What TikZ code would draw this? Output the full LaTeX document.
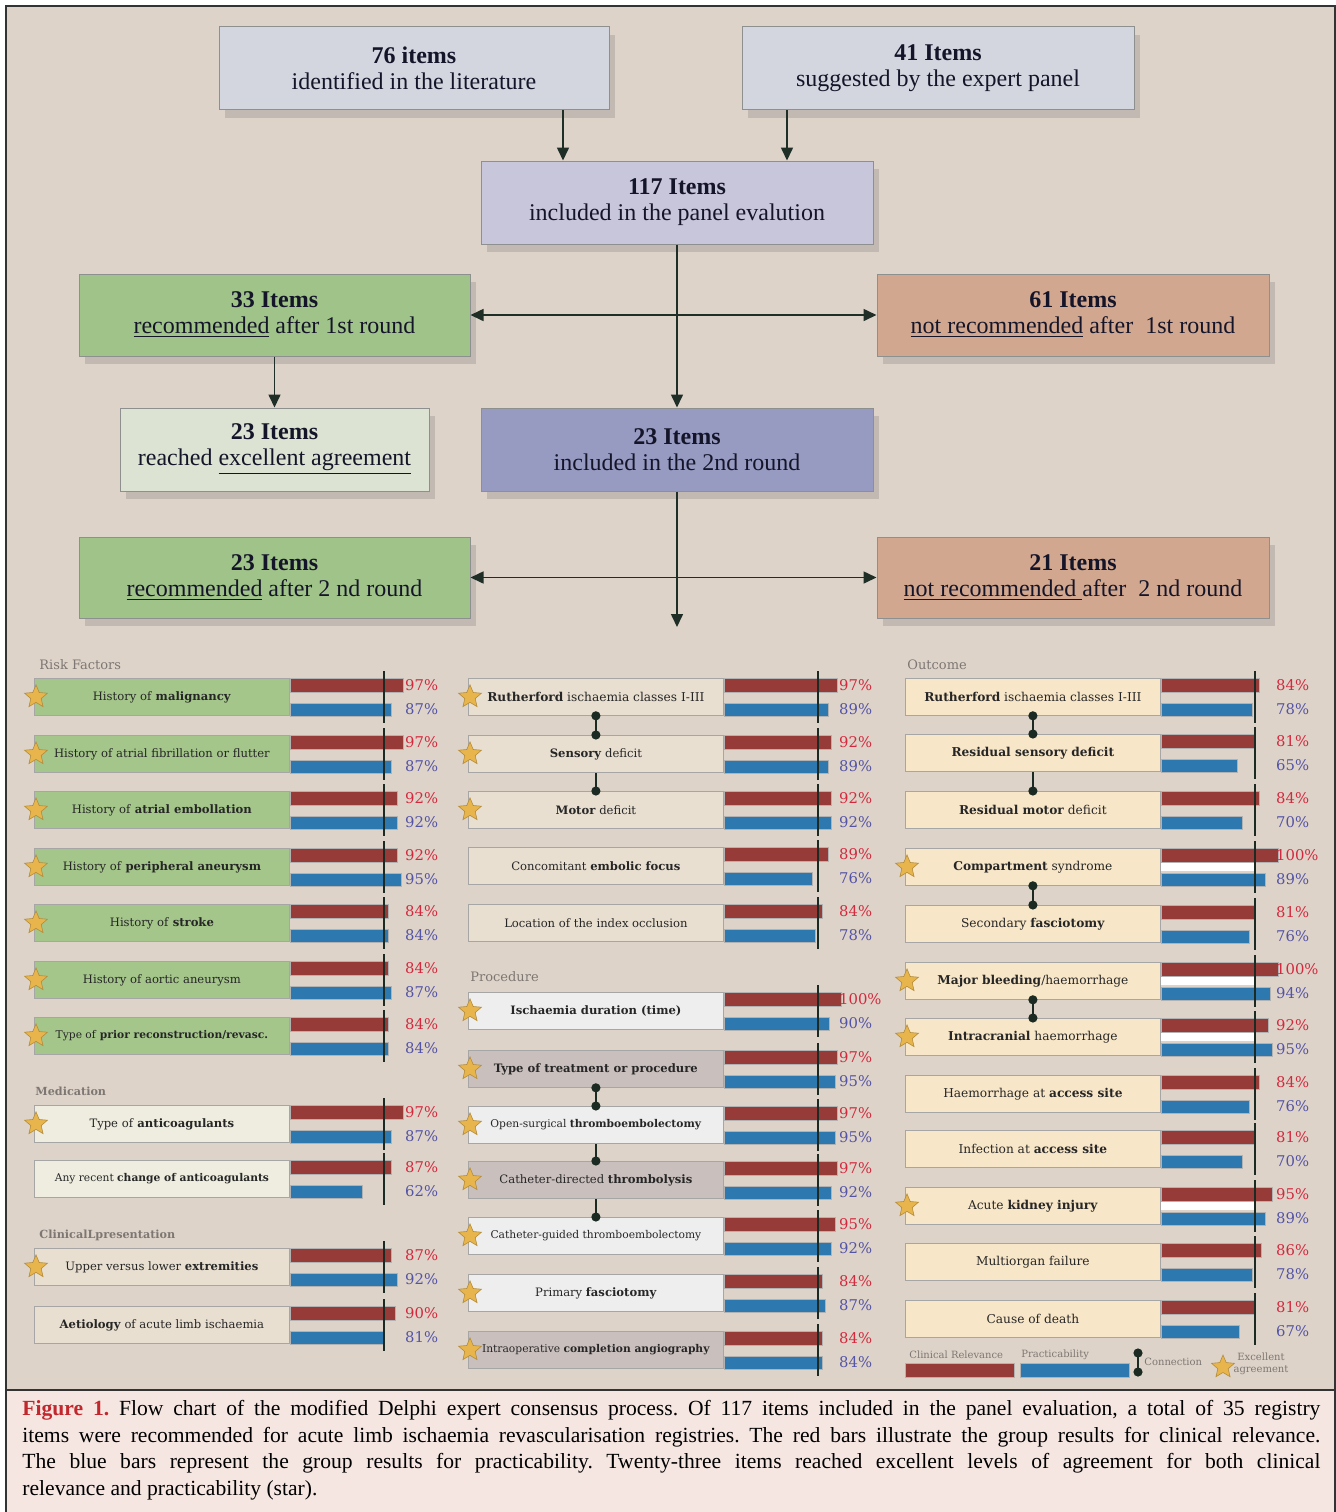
\documentclass[tikz,border=0pt]{standalone}
\usepackage{fontspec}
\setmainfont{Liberation Serif}
\newfontfamily\chartfont{DejaVu Serif}
\usepackage{tikz}
\usetikzlibrary{arrows.meta,shapes.geometric,shadows,calc}

\definecolor{panelbg}{HTML}{DED3C8}
\definecolor{capbg}{HTML}{F6E6E1}
\definecolor{boxline}{HTML}{8E908F}
\definecolor{arrowcol}{HTML}{1F2E26}
\definecolor{flowtext}{HTML}{15152A}
\definecolor{litfill}{HTML}{D3D6DE}
\definecolor{panelfill}{HTML}{C8C6DA}
\definecolor{recfill}{HTML}{A0C389}
\definecolor{nrecfill}{HTML}{D2A78F}
\definecolor{excfill}{HTML}{DCE3D2}
\definecolor{roundfill}{HTML}{979BC2}
\definecolor{rowgreen}{HTML}{A4C68B}
\definecolor{rowcream}{HTML}{EEEDDF}
\definecolor{rowbeige}{HTML}{E8DFD0}
\definecolor{rowwhite}{HTML}{EEEEEE}
\definecolor{rowgray}{HTML}{C9C0BE}
\definecolor{rowpeach}{HTML}{F8E6C8}
\definecolor{relcol}{HTML}{963B37}
\definecolor{praccol}{HTML}{2E78B0}
\definecolor{relnum}{HTML}{D3293F}
\definecolor{pracnum}{HTML}{5454A6}
\definecolor{headgray}{HTML}{7D7773}
\definecolor{starfill}{HTML}{E8B54C}
\definecolor{starline}{HTML}{B38C3C}
\definecolor{linkcol}{HTML}{1B2A22}
\definecolor{figred}{HTML}{C1272D}

\tikzset{
  flowbox/.style={
    draw=boxline,
    line width=0.5pt,
    align=center,
    text=flowtext,
    inner sep=2pt,
    font=\fontsize{12}{13}\selectfont,
    drop shadow={shadow xshift=3pt, shadow yshift=-4pt, opacity=0.3}
  },
  flow/.style={
    line width=0.8pt,
    draw=arrowcol,
    -{Triangle[length=6.5pt,width=6pt]}
  },
  twoway/.style={
    line width=0.8pt,
    draw=arrowcol,
    {Triangle[length=6.5pt,width=6pt]}-{Triangle[length=6.5pt,width=6pt]}
  },
  rowbox/.style={
    draw=black!35,
    line width=0.4pt,
    anchor=north west,
    minimum width=127.5pt,
    minimum height=18.5pt,
    inner sep=0pt,
    text=black!85,
    font=\chartfont\fontsize{5.8}{7}\selectfont
  },
  longlabel/.style={font=\chartfont\fontsize{5.35}{7}\selectfont},
  widelabel/.style={font=\chartfont\fontsize{6.1}{7}\selectfont},
  relbar/.style={fill=relcol, draw=black!30, line width=0.3pt},
  pracbar/.style={fill=praccol, draw=black!30, line width=0.3pt},
  cutline/.style={draw=linkcol, line width=0.7pt},
  relpct/.style={anchor=west, inner sep=0pt, text=relnum, font=\chartfont\fontsize{7.4}{8}\selectfont},
  pracpct/.style={anchor=west, inner sep=0pt, text=pracnum, font=\chartfont\fontsize{7.4}{8}\selectfont},
  starmark/.style={
    star, star points=5, star point ratio=2.2,
    minimum size=12pt, inner sep=0pt,
    fill=starfill, draw=starline, line width=0.3pt
  },
  link/.style={draw=linkcol, line width=1pt},
  grouphead/.style={anchor=west, inner sep=0pt, text=headgray, font=\chartfont\fontsize{6.5}{8}\selectfont},
  subhead/.style={anchor=west, inner sep=0pt, text=headgray, font=\chartfont\bfseries\fontsize{5.6}{7}\selectfont},
  legtext/.style={inner sep=0pt, text=headgray, font=\chartfont\fontsize{5}{6}\selectfont}
}

% one item: name, x, top y, fill, label, relevance, practicability
\newcommand{\itemrow}[7]{%
  \node[rowbox,#4] (#1) at (#2,#3) {#5};
  \filldraw[relbar] (#1.north east) rectangle ++(#6*1.17,14);
  \filldraw[pracbar] (#1.south east) rectangle ++(#7*1.17,-13);
  \draw[cutline] ([shift={(94.2,-7)}]#1.north east) -- ++(0,52);
  \node[relpct] (#1r) at ([shift={(115,7)}]#1.north east) {#6\%};
  \node[pracpct] (#1p) at ([shift={(115,31)}]#1.north east) {#7\%};
}

\begin{document}
\begin{tikzpicture}[x=0.5pt,y=-0.5pt]
  \useasboundingbox[fill=white] (0,0) rectangle (1336,1512);

  % panels
  \filldraw[fill=panelbg, draw=black!80, line width=0.6pt] (6,6) rectangle (1335,1390);
  \filldraw[fill=capbg, draw=black!80, line width=0.6pt] (6,1390) rectangle (1335,1515);

  % flow chart
  \node[flowbox, fill=litfill, minimum width=195pt, minimum height=41.5pt] (lit) at (414,68)
    {\textbf{76 items}\\identified in the literature};
  \node[flowbox, fill=litfill, minimum width=196pt, minimum height=41.5pt] (expert) at (938,68)
    {\textbf{41 Items}\\suggested by the expert panel};
  \node[flowbox, fill=panelfill, minimum width=196pt, minimum height=41.5pt] (panel) at (677,202.5)
    {\textbf{117 Items}\\included in the panel evalution};
  \node[flowbox, fill=recfill, minimum width=195.5pt, minimum height=41pt] (rec1) at (274.5,315)
    {\textbf{33 Items}\\\underline{recommended} after 1st round};
  \node[flowbox, fill=nrecfill, minimum width=196pt, minimum height=41pt] (nrec1) at (1073,315)
    {\textbf{61 Items}\\\underline{not recommended} after\ \ 1st round};
  \node[flowbox, fill=excfill, minimum width=154.5pt, minimum height=41.5pt] (excel) at (274.5,449.5)
    {\textbf{23 Items}\\reached \underline{excellent agreement}};
  \node[flowbox, fill=roundfill, minimum width=196pt, minimum height=41.5pt] (round2) at (677,449.5)
    {\textbf{23 Items}\\included in the 2nd round};
  \node[flowbox, fill=recfill, minimum width=195.5pt, minimum height=40.5pt] (rec2) at (274.5,577.5)
    {\textbf{23 Items}\\\underline{recommended} after 2 nd round};
  \node[flowbox, fill=nrecfill, minimum width=196pt, minimum height=40.5pt] (nrec2) at (1073,577.5)
    {\textbf{21 Items}\\\underline{not recommended }after\ \ 2 nd round};
  \coordinate (chart) at (677,627);

  \draw[flow] ([xshift=74.5pt]lit.south) -- ([xshift=74.5pt]lit.south |- panel.north);
  \draw[flow] ([xshift=-75.5pt]expert.south) -- ([xshift=-75.5pt]expert.south |- panel.north);
  \draw[flow] (panel.south) -- (round2.north);
  \draw[twoway] (rec1.east) -- (nrec1.west);
  \draw[flow] (rec1.south) -- (excel.north);
  \draw[flow] (round2.south) -- (chart);
  \draw[twoway] (rec2.east) -- (nrec2.west);

  % group headings
  \node[grouphead] (hrisk) at (39,665) {Risk Factors};
  \node[subhead] (hmed) at (35,1091) {Medication};
  \node[subhead] (hclin) at (39,1235) {ClinicalLpresentation};
  \node[grouphead] (hproc) at (470,977) {Procedure};
  \node[grouphead] (hout) at (907,665) {Outcome};

  % left column
  \itemrow{rf1}{34}{678}{fill=rowgreen}{History of \textbf{malignancy}}{97}{87}
  \itemrow{rf2}{34}{735}{fill=rowgreen}{History of atrial fibrillation or flutter}{97}{87}
  \itemrow{rf3}{34}{791}{fill=rowgreen}{History of \textbf{atrial embollation}}{92}{92}
  \itemrow{rf4}{34}{848}{fill=rowgreen}{History of \textbf{peripheral aneurysm}}{92}{95}
  \itemrow{rf5}{34}{904}{fill=rowgreen}{History of \textbf{stroke}}{84}{84}
  \itemrow{rf6}{34}{961}{fill=rowgreen}{History of aortic aneurysm}{84}{87}
  \itemrow{rf7}{34}{1017}{fill=rowgreen,longlabel}{Type of \textbf{prior reconstruction/revasc.}}{84}{84}
  \itemrow{md1}{34}{1105}{fill=rowcream}{Type of \textbf{anticoagulants}}{97}{87}
  \itemrow{md2}{34}{1160}{fill=rowcream,longlabel}{Any recent \textbf{change of anticoagulants}}{87}{62}
  \itemrow{cp1}{34}{1248}{fill=rowbeige}{Upper versus lower \textbf{extremities}}{87}{92}
  \itemrow{cp2}{34}{1306}{fill=rowbeige}{\textbf{Aetiology} of acute limb ischaemia}{90}{81}

  % middle column
  \itemrow{dx1}{468}{678}{fill=rowbeige,widelabel}{\textbf{Rutherford} ischaemia classes I-III}{97}{89}
  \itemrow{dx2}{468}{735}{fill=rowbeige}{\textbf{Sensory} deficit}{92}{89}
  \itemrow{dx3}{468}{791}{fill=rowbeige}{\textbf{Motor} deficit}{92}{92}
  \itemrow{dx4}{468}{847}{fill=rowbeige}{Concomitant \textbf{embolic focus}}{89}{76}
  \itemrow{dx5}{468}{904}{fill=rowbeige}{Location of the index occlusion}{84}{78}
  \itemrow{pr1}{468}{992}{fill=rowwhite}{\textbf{Ischaemia duration (time)}}{100}{90}
  \itemrow{pr2}{468}{1050}{fill=rowgray}{\textbf{Type of treatment or procedure}}{97}{95}
  \itemrow{pr3}{468}{1106}{fill=rowwhite,longlabel}{Open-surgical \textbf{thromboembolectomy}}{97}{95}
  \itemrow{pr4}{468}{1161}{fill=rowgray}{Catheter-directed \textbf{thrombolysis}}{97}{92}
  \itemrow{pr5}{468}{1217}{fill=rowwhite,longlabel}{Catheter-guided thromboembolectomy}{95}{92}
  \itemrow{pr6}{468}{1274}{fill=rowwhite}{Primary \textbf{fasciotomy}}{84}{87}
  \itemrow{pr7}{468}{1331}{fill=rowgray,longlabel}{Intraoperative \textbf{completion angiography}}{84}{84}

  % right column
  \itemrow{oc1}{905}{678}{fill=rowpeach,widelabel}{\textbf{Rutherford} ischaemia classes I-III}{84}{78}
  \itemrow{oc2}{905}{734}{fill=rowpeach,widelabel}{\textbf{Residual sensory deficit}}{81}{65}
  \itemrow{oc3}{905}{791}{fill=rowpeach,widelabel}{\textbf{Residual motor} deficit}{84}{70}
  \itemrow{oc4}{905}{848}{fill=rowpeach,widelabel}{\textbf{Compartment} syndrome}{100}{89}
  \itemrow{oc5}{905}{905}{fill=rowpeach,widelabel}{Secondary \textbf{fasciotomy}}{81}{76}
  \itemrow{oc6}{905}{962}{fill=rowpeach,widelabel}{\textbf{Major bleeding}/haemorrhage}{100}{94}
  \itemrow{oc7}{905}{1018}{fill=rowpeach,widelabel}{\textbf{Intracranial} haemorrhage}{92}{95}
  \itemrow{oc8}{905}{1075}{fill=rowpeach,widelabel}{Haemorrhage at \textbf{access site}}{84}{76}
  \itemrow{oc9}{905}{1130}{fill=rowpeach,widelabel}{Infection at \textbf{access site}}{81}{70}
  \itemrow{oc10}{905}{1187}{fill=rowpeach,widelabel}{Acute \textbf{kidney injury}}{95}{89}
  \itemrow{oc11}{905}{1243}{fill=rowpeach,widelabel}{Multiorgan failure}{86}{78}
  \itemrow{oc12}{905}{1300}{fill=rowpeach,widelabel}{Cause of death}{81}{67}

  % white gap of the starred outcome rows
  \foreach \r in {oc4,oc6,oc7,oc10}
    \fill[white] ([shift={(0.5,14.5)}]\r.north east) rectangle ([shift={(93,23)}]\r.north east);

  % excellent agreement
  \foreach \s in {rf1,rf2,rf3,rf4,rf5,rf6,rf7,md1,cp1,dx1,dx2,dx3,pr1,pr2,pr3,pr4,pr5,pr6,pr7,oc4,oc6,oc7,oc10}
    \node[starmark] (star-\s) at ([xshift=1pt]\s.west) {};

  % connections
  \draw[link] (dx1.south) -- (dx2.north);
  \fill[linkcol] (dx1.south) circle (2.3pt) (dx2.north) circle (2.3pt);
  \draw[link] (dx2.south) -- (dx3.north);
  \fill[linkcol] (dx3.north) circle (2.3pt);
  \draw[link] (pr2.south) -- (pr3.north);
  \fill[linkcol] (pr2.south) circle (2.3pt) (pr3.north) circle (2.3pt);
  \draw[link] (pr3.south) -- (pr4.north);
  \fill[linkcol] (pr4.north) circle (2.3pt);
  \draw[link] (pr4.south) -- (pr5.north);
  \fill[linkcol] (pr5.north) circle (2.3pt);
  \draw[link] (oc1.south) -- (oc2.north);
  \fill[linkcol] (oc1.south) circle (2.3pt) (oc2.north) circle (2.3pt);
  \draw[link] (oc2.south) -- (oc3.north);
  \fill[linkcol] (oc3.north) circle (2.3pt);
  \draw[link] (oc4.south) -- (oc5.north);
  \fill[linkcol] (oc4.south) circle (2.3pt) (oc5.north) circle (2.3pt);
  \draw[link] (oc6.south) -- (oc7.north);
  \fill[linkcol] (oc6.south) circle (2.3pt) (oc7.north) circle (2.3pt);

  % legend
  \node[legtext, anchor=west] (legrel) at (909,1355) {Clinical Relevance};
  \filldraw[relbar] (905,1363) rectangle (1014,1377);
  \node[legtext, anchor=west] (legprac) at (1021,1355) {Practicability};
  \filldraw[pracbar] (1020,1363) rectangle (1129,1377);
  \coordinate (legA) at (1138,1353);
  \coordinate (legB) at (1138,1372);
  \draw[link] (legA) -- (legB);
  \fill[linkcol] (legA) circle (2.3pt) (legB) circle (2.3pt);
  \node[legtext, anchor=west] (legcon) at (1144,1362) {Connection};
  \node[starmark] (legstar) at (1223,1367) {};
  \node[legtext, align=center] (legexc) at (1261,1364) {Excellent\\agreement};

  % caption
  \node[anchor=north west, inner sep=0pt, text width=649pt, align=justify,
        font=\fontsize{10.8}{13.3}\selectfont\frenchspacing] (caption) at (22,1400)
    {\textcolor{figred}{\textbf{Figure 1.}} Flow chart of the modified Delphi expert consensus process. Of 117 items included in the panel evaluation, a total of 35 registry\linebreak
     items were recommended for acute limb ischaemia revascularisation registries. The red bars illustrate the group results for clinical relevance.\linebreak
     The blue bars represent the group results for practicability. Twenty-three items reached excellent levels of agreement for both clinical\linebreak
     relevance and practicability (star).};
\end{tikzpicture}
\end{document}
